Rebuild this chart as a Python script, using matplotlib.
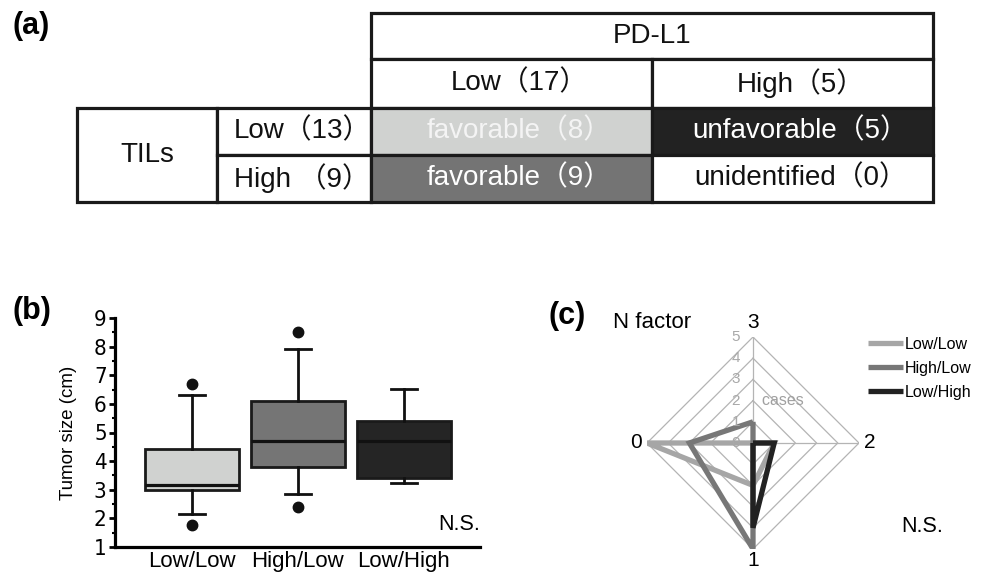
import numpy as np
import matplotlib
matplotlib.use('Agg')
import matplotlib.pyplot as plt
from matplotlib.patches import Rectangle
from matplotlib.transforms import ScaledTranslation

plt.rcParams['font.family'] = ['Liberation Sans', 'Noto Sans CJK JP', 'DejaVu Sans']

# (a) table contents
pdl1_title = 'PD-L1'
pdl1_groups = ['Low（17）', 'High（5）']
til_title = 'TILs'
til_groups = ['Low（13）', 'High （9）']
cell_text = [['favorable（8）', 'unfavorable（5）'],
             ['favorable（9）', 'unidentified（0）']]
cell_fill = [['#d0d2d0', '#222222'], ['#747474', '#ffffff']]
cell_font = [['#f4f4f4', '#ffffff'], ['#ffffff', '#111111']]

# (b) tumor size box plot
groups = ['Low/Low', 'High/Low', 'Low/High']
q1 = [3.0, 3.8, 3.4]
med = [3.15, 4.72, 4.72]
q3 = [4.43, 6.1, 5.4]
whislo = [2.17, 2.85, 3.22]
whishi = [6.3, 7.93, 6.52]
fliers = [[1.77, 6.7], [2.4, 8.5], []]
box_colors = ['#d0d2d0', '#757575', '#252525']

# (c) N factor radar
n_factor = ['3', '2', '1', '0']   # clockwise from top
radar_series = {
    'Low/Low': [0, 1, 2, 5],
    'High/Low': [1, 0, 5, 3],
    'Low/High': [0, 1, 4, 0],
}
radar_colors = ['#a6a6a6', '#777777', '#222222']

W, H = 983, 573
fig = plt.figure(figsize=(W / 100, H / 100), dpi=100)

# ---- (a) table, drawn in pixel coords
ta = fig.add_axes([0, 0, 1, 1])
ta.set_xlim(0, W)
ta.set_ylim(H, 0)
ta.axis('off')
xe = [77, 217, 371, 652, 933]
ye = [13, 59, 108, 155, 202]
edge = '#1a1a1a'
tfs = 20

def cell(x0, x1, y0, y1, txt, fc='white', tc='#111111'):
    ta.add_patch(Rectangle((x0, y0), x1 - x0, y1 - y0, facecolor=fc,
                           edgecolor=edge, linewidth=2.3))
    # full-width closing paren leaves blank space on the right
    dx = 8 if txt.endswith('）') else 0
    ta.text((x0 + x1) / 2 + dx, (y0 + y1) / 2, txt, ha='center', va='center',
            fontsize=tfs, color=tc)

cell(xe[2], xe[4], ye[0], ye[1], pdl1_title)
for j in range(2):
    cell(xe[2 + j], xe[3 + j], ye[1], ye[2], pdl1_groups[j])
cell(xe[0], xe[1], ye[2], ye[4], til_title)
for i in range(2):
    cell(xe[1], xe[2], ye[2 + i], ye[3 + i], til_groups[i])
    for j in range(2):
        cell(xe[2 + j], xe[3 + j], ye[2 + i], ye[3 + i], cell_text[i][j],
             cell_fill[i][j], cell_font[i][j])

ta.text(12, 26, '(a)', fontsize=22, fontweight='bold', va='center')
ta.text(12, 311, '(b)', fontsize=22, fontweight='bold', va='center')
ta.text(549, 316, '(c)', fontsize=22, fontweight='bold', va='center')

# ---- (b) box plot
bx = fig.add_axes([115 / W, 26 / H, (480 - 115) / W, (547 - 318) / H])
stats = []
for k in range(3):
    stats.append(dict(med=med[k], q1=q1[k], q3=q3[k], whislo=whislo[k],
                      whishi=whishi[k], fliers=fliers[k]))
bp = bx.bxp(stats, positions=[1, 2, 3], widths=0.89, patch_artist=True,
            showfliers=True,
            boxprops=dict(linewidth=2.0, edgecolor='#1a1a1a'),
            medianprops=dict(color='#111111', linewidth=2.3),
            whiskerprops=dict(color='#111111', linewidth=2.0),
            capprops=dict(color='#111111', linewidth=2.0),
            flierprops=dict(marker='o', markerfacecolor='#111111',
                            markeredgecolor='#111111', markersize=7.5))
for patch, c in zip(bp['boxes'], box_colors):
    patch.set_facecolor(c)
for cap in bp['caps']:
    mid = np.mean(cap.get_xdata())
    cap.set_xdata([mid - 0.12, mid + 0.12])
bx.set_xlim(0.274, 3.717)
bx.set_ylim(1, 9)
bx.set_yticks(range(1, 10))
bx.set_yticks(np.arange(1.5, 9, 1), minor=True)
bx.set_xticks([1, 2, 3])
bx.set_xticklabels(groups, fontsize=16)
for lab in bx.get_yticklabels():
    lab.set_fontfamily('DejaVu Sans')
    lab.set_fontstretch('condensed')
    lab.set_fontsize(16)
bx.tick_params(axis='y', which='major', length=4, width=2, pad=2)
bx.tick_params(axis='y', which='minor', length=2, width=1.5)
bx.tick_params(axis='x', length=0, pad=3)
for s in ['top', 'right']:
    bx.spines[s].set_visible(False)
bx.spines['left'].set_linewidth(2.3)
bx.spines['bottom'].set_linewidth(2.3)
bx.set_ylabel('Tumor size (cm)', fontsize=13.5)
bx.yaxis.set_label_coords(-0.105, 0.5)
fig.text(480 / W, 1 - 525 / H, 'N.S.', ha='right', va='center', fontsize=15.5)

# ---- (c) radar
R = 106
rx = fig.add_axes([(753 - R) / W, (H - 443 - R) / H, 2 * R / W, 2 * R / H],
                  projection='polar')
rx.set_theta_offset(np.pi / 2)
rx.set_theta_direction(-1)
rx.set_ylim(0, 5)
rx.axis('off')
ang = np.arange(4) * np.pi / 2
ang_c = np.append(ang, ang[0])
grid_c = '#b4b4b4'
for lev in range(1, 6):
    rx.plot(ang_c, [lev] * 5, color=grid_c, linewidth=0.9)
for a in ang:
    rx.plot([a, a], [0, 5], color=grid_c, linewidth=0.9)
shift = rx.transData + ScaledTranslation(-13 / 100, 0, fig.dpi_scale_trans)
for lev in range(0, 6):
    rx.text(0, lev, str(lev), transform=shift, fontsize=11,
            color='#a8a8a8', ha='right', va='center')
handles = []
for (name, vals), c in zip(radar_series.items(), radar_colors):
    v = vals + vals[:1]
    ln, = rx.plot(ang_c, v, color=c, linewidth=3.8, solid_joinstyle='miter',
                  solid_capstyle='butt', label=name)
    handles.append(ln)
for a, lab, rr in zip(ang, n_factor, [5.7, 5.5, 5.55, 5.5]):
    rx.text(a, rr, lab, fontsize=15, ha='center', va='center')
rx.text(0, 2, '  cases', fontsize=11.5, color='#a0a0a0', ha='left', va='center')

fig.text(613 / W, 1 - 323 / H, 'N factor', fontsize=16, va='center')
fig.text(943 / W, 1 - 527 / H, 'N.S.', fontsize=15.5, ha='right', va='center')
fig.legend(handles=handles, loc='upper left',
           bbox_to_anchor=(868 / W, 1 - 337 / H), frameon=False,
           fontsize=11.5, handlelength=2.2, handletextpad=0.1,
           labelspacing=0.55, borderpad=0, borderaxespad=0)

fig.savefig('out.png', dpi=100)
